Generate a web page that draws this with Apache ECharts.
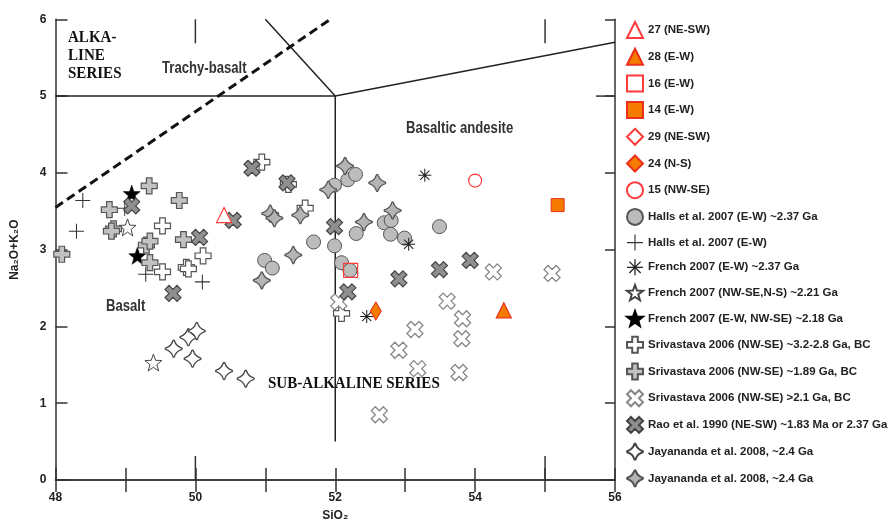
<!DOCTYPE html>
<html>
<head>
<meta charset="utf-8">
<script src="https://cdn.jsdelivr.net/npm/echarts@6/dist/echarts.min.js"></script>
<style>html,body{margin:0;padding:0;background:#fff;overflow:hidden}#c{width:889px;height:522px}</style>
</head>
<body>
<div id="c"></div>
<script>
// ---------------- data ----------------
const xTicks = [48, 50, 52, 54, 56];
const s27 = [[50.41, 3.45]];
const s28 = [[54.41, 2.21]];
const s16 = [[52.22, 2.73]];
const s14 = [[55.18, 3.58]];
const s29 = [];
const s24 = [[52.58, 2.20]];
const s15 = [[54.00, 3.90]];
const hallsCircle = [[50.99,2.86],[51.10,2.76],[51.69,3.10],[51.99,3.05],[52.09,2.83],[52.21,2.73],[51.99,3.84],[52.18,3.91],[52.29,3.98],[52.30,3.21],[52.70,3.35],[52.80,3.38],[52.79,3.20],[52.99,3.15],[53.49,3.30]];
const hallsPlus = [[48.39,3.64],[48.30,3.24],[48.99,3.54],[49.29,2.68],[50.10,2.58]];
const french237 = [[53.28,3.97],[53.05,3.07],[52.45,2.13]];
const french221 = [[49.03,3.29],[49.40,1.53]];
const french218 = [[49.09,3.73],[49.17,2.92]];
const sriv32 = [[50.95,4.14],[51.57,3.54],[49.53,3.31],[50.11,2.92],[49.53,2.71],[49.87,2.77],[49.90,2.75],[52.09,2.17],[51.33,3.85]];
const sriv189 = [[49.34,3.83],[48.77,3.52],[48.83,3.27],[48.80,3.24],[49.77,3.64],[49.30,3.06],[49.35,3.11],[49.35,2.83],[49.83,3.13],[48.09,2.94]];
const sriv21 = [[54.26,2.71],[55.10,2.69],[53.60,2.33],[53.82,2.10],[53.81,1.84],[53.14,1.96],[52.91,1.69],[53.18,1.45],[53.77,1.40],[52.63,0.85],[52.05,2.32]];
const rao = [[50.81,4.06],[50.54,3.38],[50.06,3.16],[49.09,3.57],[51.31,3.87],[49.68,2.43],[51.99,3.30],[52.18,2.45],[52.91,2.62],[53.49,2.74],[53.93,2.86]];
const jayWhite = [[49.69,1.71],[49.90,1.86],[50.02,1.94],[49.96,1.58],[50.41,1.42],[50.72,1.32]];
const jayGray = [[50.95,2.60],[51.07,3.47],[51.13,3.41],[51.40,2.93],[51.50,3.45],[51.90,3.78],[52.14,4.09],[52.60,3.87],[52.41,3.36],[52.82,3.51]];
// classification boundaries
const lineAlkTop = [[48,5],[52,5]];
const lineVert = [[52,0.5],[52,5]];
const lineDiag = [[51,6],[52,5]];
const lineAndesite = [[52,5],[56,5.7]];
const lineDivide = [[48,3.55],[51.93,6]];
const longTicksX = [50, 55];
const longTicksYRight = [5];

const names = ["27 (NE-SW)","28 (E-W)","16 (E-W)","14 (E-W)","29 (NE-SW)","24 (N-S)","15 (NW-SE)",
 "Halls et al. 2007 (E-W) ~2.37 Ga","Halls et al. 2007 (E-W)","French 2007 (E-W) ~2.37 Ga",
 "French 2007 (NW-SE,N-S) ~2.21 Ga","French 2007 (E-W, NW-SE) ~2.18 Ga",
 "Srivastava 2006 (NW-SE) ~3.2-2.8 Ga, BC","Srivastava 2006 (NW-SE) ~1.89 Ga, BC",
 "Srivastava 2006 (NW-SE) >2.1 Ga, BC","Rao et al. 1990 (NE-SW) ~1.83 Ma or 2.37 Ga",
 "Jayananda et al. 2008, ~2.4 Ga","Jayananda et al. 2008, ~2.4 Ga\u200b"];

// ---------------- fonts ----------------
function hasFont(name){
  const c = document.createElement('canvas').getContext('2d');
  const t = 'abcdefghijklmnopqrstuvwxyz0123456789';
  c.font = '40px monospace'; const w0 = c.measureText(t).width;
  c.font = '40px "' + name + '", monospace'; const w1 = c.measureText(t).width;
  return Math.abs(w1 - w0) > 0.5;
}
const narrow = hasFont('Liberation Sans Narrow');
const NF = narrow ? '"Liberation Sans Narrow", "Liberation Sans", Arial, sans-serif' : '"Liberation Sans", Arial, sans-serif';
const axisFS = narrow ? 14 : 12;
const legFS = narrow ? 13 : 11.5;

// ---------------- symbols ----------------
function poly(pts){ return pts.map((p,i)=>(i?'L':'M')+p[0].toFixed(3)+','+p[1].toFixed(3)).join(' ')+' Z'; }
function rot(pts, a){ const c=Math.cos(a), s=Math.sin(a); return pts.map(p=>[p[0]*c-p[1]*s, p[0]*s+p[1]*c]); }
function crossPts(w){ return [[-w,-10],[w,-10],[w,-w],[10,-w],[10,w],[w,w],[w,10],[-w,10],[-w,w],[-10,w],[-10,-w],[-w,-w]]; }
const symGreek = 'path://' + poly(crossPts(3.5));
const symX = 'path://' + poly(rot(crossPts(3.3), Math.PI/4));
const symPlus = 'path://' + poly(crossPts(0.7));
function bar(a,w){ return poly(rot([[-10,-w],[10,-w],[10,w],[-10,w]], a)); }
const symAst = 'path://' + [0,45,90,135].map(d=>bar(d*Math.PI/180,0.8)).join(' ');
function starPts(){ const p=[]; for(let i=0;i<10;i++){ const r=i%2?4.1:10; const a=-Math.PI/2+i*Math.PI/5; p.push([r*Math.cos(a), r*Math.sin(a)]);} return p; }
const symStar = 'path://' + poly(starPts());
const symJay = 'path://M-0.8,-9.6 Q0,-10.4 0.8,-9.6 Q2.8,-2.8 9.6,-0.8 Q10.4,0 9.6,0.8 Q2.8,2.8 0.8,9.6 Q0,10.4 -0.8,9.6 Q-2.8,2.8 -9.6,0.8 Q-10.4,0 -9.6,-0.8 Q-2.8,-2.8 -0.8,-9.6 Z';

const RED = '#ff3a3a', ORANGE = '#f47b00', OBORDER = '#e8301c';
function sc(name, data, symbol, size, fill, border, bw, z){
  return { type:'scatter', name, data, symbol, symbolSize:size, z: z||3,
    itemStyle:{ color:fill, borderColor:border, borderWidth:bw, opacity:1 }, emphasis:{disabled:true} };
}
function seg(data, opts){
  return { type:'line', data, symbol:'none', silent:true, z:1, animation:false,
    lineStyle:Object.assign({color:'#222', width:1.5}, opts||{}) };
}

const series = [
  seg(lineAlkTop), seg(lineVert), seg(lineDiag), seg(lineAndesite),
  seg(lineDivide, {width:3, type:[9,5], color:'#111'}),
  sc(names[7], hallsCircle, 'circle', 14, '#bcbcbc', '#555', 1),
  sc(names[8], hallsPlus, symPlus, 15, '#333', '#333', 0),
  sc(names[9], french237, symAst, 13, '#222', '#222', 0),
  sc(names[10], french221, symStar, 17, '#fff', '#444', 1),
  sc(names[11], french218, symStar, 17, '#000', '#000', 0.5),
  sc(names[12], sriv32, symGreek, 16, '#fff', '#555', 1.2),
  sc(names[13], sriv189, symGreek, 16, '#c2c2c2', '#555', 1.2),
  sc(names[14], sriv21, symX, 16, '#fff', '#888', 1.3),
  sc(names[15], rao, symX, 16, '#8f8f8f', '#444', 1.2),
  sc(names[16], jayWhite, symJay, 17, '#fff', '#444', 1.3),
  sc(names[17], jayGray, symJay, 17, '#b4b4b4', '#555', 1.3),
  sc(names[0], s27, 'triangle', 15, '#fff', RED, 1.2, 5),
  sc(names[1], s28, 'triangle', 15, ORANGE, OBORDER, 1.2, 5),
  sc(names[2], s16, 'rect', 14, 'rgba(255,255,255,0)', RED, 1.2, 5),
  sc(names[3], s14, 'rect', 13, ORANGE, OBORDER, 1, 5),
  sc(names[4], s29, 'diamond', [12,18], '#fff', RED, 1.2, 5),
  sc(names[5], s24, 'diamond', [11,18], ORANGE, OBORDER, 1, 5),
  sc(names[6], s15, 'circle', 13, '#fff', RED, 1.2, 5),
  { type:'custom', silent:true, z:2, data: longTicksX.map(v=>[v,0]),
    renderItem:(p, api)=>{ const v=api.value(0); const b=api.coord([v,0]); const t=api.coord([v,6]);
      const st={stroke:'#333', lineWidth:1.5};
      return {type:'group', children:[
        {type:'line', shape:{x1:b[0],y1:b[1],x2:b[0],y2:b[1]-24}, style:st},
        {type:'line', shape:{x1:t[0],y1:t[1],x2:t[0],y2:t[1]+24}, style:st}]}; } },
  { type:'custom', silent:true, z:2, data: longTicksYRight.map(v=>[56,v]),
    renderItem:(p, api)=>{ const c=api.coord([api.value(0), api.value(1)]);
      return {type:'line', shape:{x1:c[0],y1:c[1],x2:c[0]-19,y2:c[1]}, style:{stroke:'#333', lineWidth:1.5}}; } }
];

const axLine = {lineStyle:{color:'#333', width:1.5}};
const labelStyle = {fontFamily:NF, fontWeight:'bold', fontSize:axisFS, color:'#222'};
const option = {
  animation:false,
  backgroundColor:'#fff',
  grid:{left:55.5, right:274, top:19.3, bottom:42, containLabel:false, outerBoundsMode:'none'},
  xAxis:[
    {type:'value', min:48, max:56, interval:1, position:'bottom',
      axisLine:axLine, splitLine:{show:false},
      axisTick:{inside:true, length:12, lineStyle:{color:'#333', width:1.5}},
      axisLabel:Object.assign({margin:12, formatter:v=> xTicks.indexOf(v)>=0 ? String(v) : ''}, labelStyle),
      name:'SiO\u2082', nameLocation:'middle', nameGap:30,
      nameTextStyle:Object.assign({}, labelStyle)},
    {type:'value', min:48, max:56, interval:1, position:'top',
      axisLine:axLine, splitLine:{show:false}, axisLabel:{show:false},
      axisTick:{inside:true, length:12, lineStyle:{color:'#333', width:1.5}}}
  ],
  yAxis:[
    {type:'value', min:0, max:6, interval:1, position:'left',
      axisLine:axLine, splitLine:{show:false},
      axisTick:{inside:true, length:12, lineStyle:{color:'#333', width:1.5}},
      axisLabel:Object.assign({margin:9}, labelStyle),
      name:'Na\u2082O+K\u2082O', nameLocation:'middle', nameGap:35, nameRotate:90,
      nameTextStyle:Object.assign({}, labelStyle)},
    {type:'value', min:0, max:6, interval:1, position:'right',
      axisLine:axLine, splitLine:{show:false}, axisLabel:{show:false},
      axisTick:{inside:true, length:10, lineStyle:{color:'#333', width:1.5}}}
  ],
  legend:{
    data:names, orient:'vertical', left:626, top:21, padding:0, itemWidth:16, itemHeight:16, itemGap:8.7,
    selectedMode:false,
    textStyle:{fontFamily:NF, fontWeight:'bold', fontSize:legFS, color:'#222'}
  },
  graphic:[
    {type:'text', x:68, y:29, scaleX:0.94, silent:true,
      style:{text:'ALKA-\nLINE\nSERIES', font:'bold 16px "Liberation Serif", "Times New Roman", serif', lineHeight:18, fill:'#111', verticalAlign:'top'}},
    {type:'text', x:268, y:384, scaleX:0.94, silent:true,
      style:{text:'SUB-ALKALINE SERIES', font:'bold 16px "Liberation Serif", "Times New Roman", serif', fill:'#111', verticalAlign:'middle'}},
    {type:'text', x:162, y:69, scaleX:0.82, silent:true,
      style:{text:'Trachy-basalt', font:'bold 16px "Liberation Sans", Arial, sans-serif', fill:'#333', verticalAlign:'middle'}},
    {type:'text', x:406, y:129, scaleX:0.82, silent:true,
      style:{text:'Basaltic andesite', font:'bold 16px "Liberation Sans", Arial, sans-serif', fill:'#333', verticalAlign:'middle'}},
    {type:'text', x:106, y:307, scaleX:0.82, silent:true,
      style:{text:'Basalt', font:'bold 16px "Liberation Sans", Arial, sans-serif', fill:'#333', verticalAlign:'middle'}}
  ],
  series
};
const chart = echarts.init(document.getElementById('c'), null, {renderer:'canvas'});
chart.setOption(option);
</script>
</body>
</html>
